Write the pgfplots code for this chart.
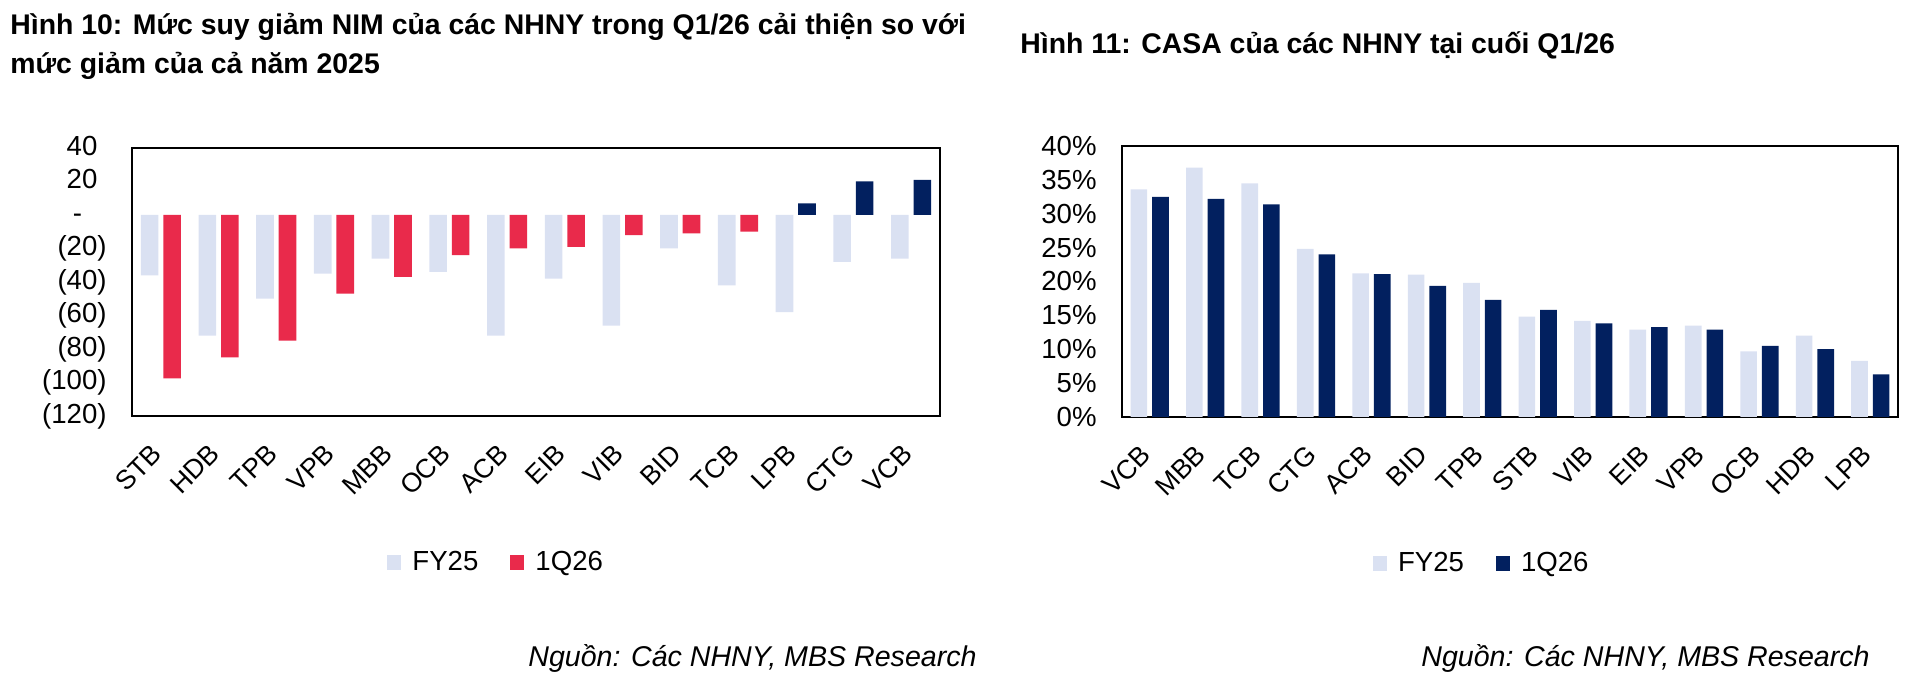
\documentclass[border=0pt]{standalone}
\usepackage{fontspec}
\setmainfont{Liberation Sans}
\usepackage{pgfplots}
\pgfplotsset{compat=1.18}
\definecolor{fylight}{HTML}{DAE1F2}
\definecolor{qred}{HTML}{E92A4B}
\definecolor{qnavy}{HTML}{02205F}

\pgfplotsset{
  mybase/.style={
    scale only axis,
    axis line style={line width=1.2pt, black},
    major tick length=0pt,
    xmin=-0.5, xmax=13.5,
    xtick={0,...,13},
    yticklabel style={font=\fontsize{13.8}{16}\selectfont, anchor=east, inner sep=0pt, xshift=-12.5pt},
    xticklabel style={font=\fontsize{13.4}{15}\selectfont, inner sep=0pt, xshift=-5.3pt, yshift=-13pt, rotate=45, anchor=north east},
    legend style={draw=none, fill=none, legend columns=2, font=\fontsize{13.8}{16}\selectfont,
      /tikz/every even column/.append style={column sep=14pt}, inner sep=0pt},
  },
  mybar/.style={ybar, draw=none, bar width=0.305,
    legend image code/.code={\fill[##1] (0pt,-3.75pt) rectangle (7pt,3.75pt); \path[draw=none, fill=none] (0pt,-3.75pt) rectangle (10.5pt,3.75pt);}},
}

\begin{document}
\begin{tikzpicture}
\useasboundingbox (0pt,0pt) rectangle (960pt,344pt);

% ---------------- Left chart ----------------
\begin{axis}[mybase, at={(66pt,136pt)}, anchor=south west, width=404pt, height=134pt,
  ymin=-120, ymax=40, ytick={-120,-100,-80,-60,-40,-20,0,20,40},
  yticklabels={(120),(100),(80),(60),(40),(20),{-\phantom{0)}},{20\phantom{)}},{40\phantom{)}}},
  xticklabels={STB,HDB,TPB,VPB,MBB,OCB,ACB,EIB,VIB,BID,TCB,LPB,CTG,VCB},
  legend style={at={(0.452,-0.545)}, anchor=center}]
\addplot[mybar, bar shift=-0.195, fill=fylight] coordinates {
  (0,-36) (1,-72) (2,-50) (3,-35) (4,-26) (5,-34) (6,-72) (7,-38) (8,-66) (9,-20) (10,-42) (11,-58) (12,-28) (13,-26)};
\addlegendentry{FY25}
\addplot[mybar, bar shift=0.195, fill=qred] coordinates {
  (0,-97.5) (1,-85) (2,-75) (3,-47) (4,-37) (5,-24) (6,-20) (7,-19) (8,-12) (9,-11) (10,-10)};
\addlegendentry{1Q26}
\addplot[mybar, bar shift=0.195, fill=qnavy, forget plot] coordinates {
  (11,7) (12,20) (13,21)};
\end{axis}

% ---------------- Right chart ----------------
\begin{axis}[mybase, at={(561pt,135.5pt)}, anchor=south west, width=388pt, height=135.5pt,
  ymin=0, ymax=40, ytick={0,5,10,15,20,25,30,35,40},
  yticklabels={0\%,5\%,10\%,15\%,20\%,25\%,30\%,35\%,40\%},
  xticklabels={VCB,MBB,TCB,CTG,ACB,BID,TPB,STB,VIB,EIB,VPB,OCB,HDB,LPB},
  legend style={at={(0.465,-0.541)}, anchor=center}]
\addplot[mybar, bar width=0.30, bar shift=-0.195, fill=fylight] coordinates {
  (0,33.6) (1,36.8) (2,34.5) (3,24.8) (4,21.2) (5,21.0) (6,19.8) (7,14.8) (8,14.2) (9,12.9) (10,13.5) (11,9.7) (12,12.0) (13,8.3)};
\addlegendentry{FY25}
\addplot[mybar, bar width=0.30, bar shift=0.195, fill=qnavy] coordinates {
  (0,32.5) (1,32.2) (2,31.4) (3,24.0) (4,21.1) (5,19.35) (6,17.3) (7,15.8) (8,13.8) (9,13.25) (10,12.9) (11,10.5) (12,10.0) (13,6.3)};
\addlegendentry{1Q26}
\end{axis}

% ---------------- Titles and sources ----------------
\node[anchor=base west, inner sep=0pt, font=\bfseries\fontsize{14.2}{17}\selectfont] at (5pt,326.75pt)
  {Hình 10: Mức suy giảm NIM của các NHNY trong Q1/26 cải thiện so với};
\node[anchor=base west, inner sep=0pt, font=\bfseries\fontsize{14.2}{17}\selectfont] at (5pt,307pt)
  {mức giảm của cả năm 2025};
\node[anchor=base west, inner sep=0pt, font=\bfseries\fontsize{14.2}{17}\selectfont] at (510pt,317pt)
  {Hình 11: CASA của các NHNY tại cuối Q1/26};
\node[anchor=base east, inner sep=0pt, font=\itshape\fontsize{14.3}{17}\selectfont] at (488.5pt,10.5pt)
  {Nguồn: Các NHNY, MBS Research};
\node[anchor=base east, inner sep=0pt, font=\itshape\fontsize{14.3}{17}\selectfont] at (935pt,10.5pt)
  {Nguồn: Các NHNY, MBS Research};
\end{tikzpicture}
\end{document}
